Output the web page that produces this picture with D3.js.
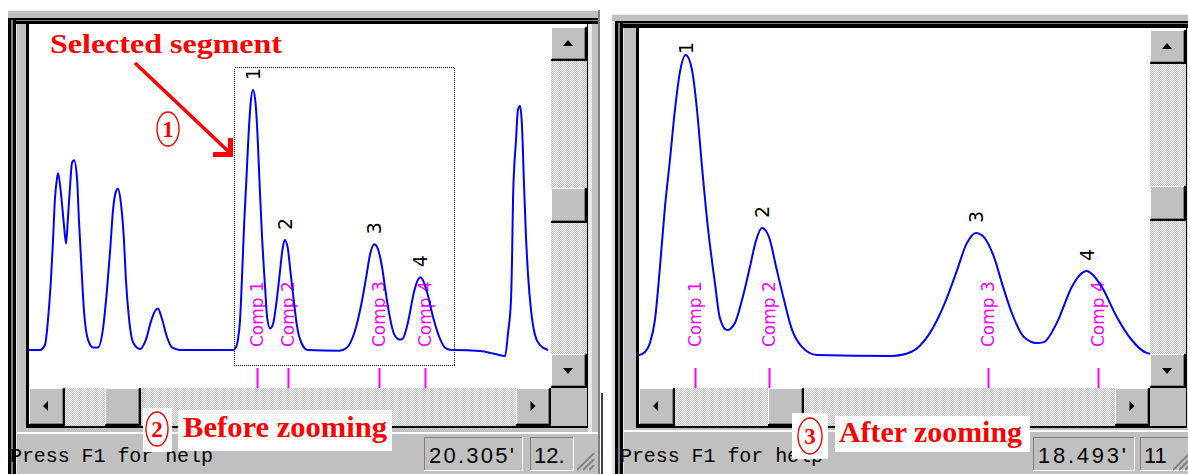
<!DOCTYPE html>
<html>
<head>
<meta charset="utf-8">
<script src="https://cdn.jsdelivr.net/npm/d3@7"></script>
<style>
  html, body { margin: 0; padding: 0; background: #fff; overflow: hidden; }
  svg { display: block; }
</style>
</head>
<body>
<div id="chart"></div>
<script>
// chromatogram: retention time (min) / detector signal (% of peak 1)
const traceTime = [
  0, 0.63, 0.92, 1.09, 1.26, 1.38, 1.49, 1.61, 1.67, 1.84,
  2.01, 2.13, 2.24, 2.36, 2.47, 2.59, 2.76, 2.87, 2.99, 3.16,
  3.39, 3.68, 3.97, 4.25, 4.48, 4.66, 4.83, 5.00, 5.11, 5.29,
  5.46, 5.57, 5.75, 5.98, 6.38, 6.72, 7.01, 7.24, 7.41, 7.64,
  7.93, 8.22, 8.68, 11.60,
  11.75, 11.89, 12.01, 12.13, 12.25, 12.37, 12.49, 12.61, 12.73, 12.87,
  13.02, 13.14, 13.26, 13.40, 13.57, 13.69, 13.86, 14.05, 14.22, 14.41,
  14.56, 14.70, 14.87, 15.04, 15.23, 15.40, 15.66, 16.02, 17.82, 18.28,
  18.73, 19.09, 19.36, 19.62, 19.84, 20.03, 20.27, 20.49, 20.70, 20.99,
  21.30, 21.47, 21.78, 22.14, 22.38, 22.50, 22.60, 22.86, 23.22, 23.58,
  23.94, 24.30, 24.45,
  25.92, 26.78, 27.36, 27.53, 27.70, 27.76, 27.82, 27.99, 28.10, 28.22,
  28.33, 28.45, 28.56, 28.68, 28.85, 29.08, 29.37, 29.83
];
const traceSignal = [
  0, 0, 2, 11.5, 27, 42, 58, 66, 68, 60,
  48, 41, 51, 63, 72, 73, 66, 50, 35, 15,
  4, 1, 1, 8, 23, 38, 54, 61, 62, 56,
  42, 27, 12, 3, 0.4, 4, 11, 15, 16, 12,
  5, 1, 0, 0,
  0, 1, 4, 11.7, 29.3, 49.3, 65, 81.7, 94.3, 100,
  95, 81.7, 62.7, 42.7, 24, 12.3, 8.3, 10.7, 18.3, 29.3,
  38.3, 42.3, 39.3, 29.3, 18.3, 9.3, 2.7, 0, -0.3, 1,
  7.3, 17.3, 27.3, 37.3, 40.7, 39.3, 32.7, 22.7, 14, 6,
  4, 4.3, 10.7, 22.7, 27.3, 28, 27.3, 22.7, 12.7, 5,
  0.7, 0, 0,
  -0.4, -1.5, -2.3, 6.5, 19.2, 34.6, 58.8, 80.8, 92.3, 93.8,
  86.5, 63.5, 44, 29, 15.4, 5.8, 1.9, 0
];

// identified components and integrated peaks
const compTimes = [13.08, 14.87, 20.12, 22.77];
const compNames = ["Comp 1", "Comp 2", "Comp 3", "Comp 4"];
const peakTimes = [12.87, 14.70, 19.84, 22.50];
const peakNames = ["1", "2", "3", "4"];

// selected segment (dotted box) and the zoomed view range
const segmentTime = [11.8, 24.43];
const segmentSignal = [-5.8, 108.8];
const zoomTime = [11.747, 23.97];

const statusLeft = ["Press F1 for help", "20.305'", "12."];
const statusRight = ["Press F1 for help", "18.493'", "11"];

const W = 1188, H = 474;
const GRAY = '#c0c0c0', DARK = '#808080', LIGHT = '#dfdfdf';

const svg = d3.select('#chart').append('svg')
    .attr('width', W).attr('height', H)
    .style('background', '#fff');

const defs = svg.append('defs');
const pat = defs.append('pattern').attr('id', 'dither')
    .attr('width', 2).attr('height', 2).attr('patternUnits', 'userSpaceOnUse');
pat.append('rect').attr('width', 2).attr('height', 2).attr('fill', GRAY);
pat.append('rect').attr('width', 1).attr('height', 1).attr('fill', '#fff');
pat.append('rect').attr('x', 1).attr('y', 1).attr('width', 1).attr('height', 1).attr('fill', '#fff');

function box(g, x, y, w, h, fill) {
    return g.append('rect').attr('x', x).attr('y', y)
        .attr('width', w).attr('height', h).attr('fill', fill)
        .attr('shape-rendering', 'crispEdges');
}

// raised win95 button with an arrow glyph
function button(g, x, y, w, h, dir) {
    box(g, x, y, w, h, '#000');
    box(g, x, y, w - 2, h - 2, '#fff');
    box(g, x + 1, y + 1, w - 3, h - 3, DARK);
    box(g, x + 1, y + 1, w - 4, h - 4, GRAY);
    if (!dir) return;
    const cx = x + (w - 2) / 2, cy = y + (h - 2) / 2;
    let pts;
    if (dir === 'up') pts = [[cx - 5, cy + 3], [cx + 5, cy + 3], [cx, cy - 3]];
    if (dir === 'down') pts = [[cx - 5, cy - 2], [cx + 5, cy - 2], [cx, cy + 4]];
    if (dir === 'left') pts = [[cx + 2, cy - 5], [cx + 2, cy + 5], [cx - 3, cy]];
    if (dir === 'right') pts = [[cx - 2, cy - 5], [cx - 2, cy + 5], [cx + 3, cy]];
    g.append('polygon').attr('points', pts.map(p => p.join(',')).join(' ')).attr('fill', '#000');
}

function sunken(g, x, y, w, h) {
    box(g, x, y, w, h, '#fff');
    box(g, x, y, w - 1, h - 1, DARK);
    box(g, x + 1, y + 1, w - 2, h - 2, GRAY);
}

function grip(g, x, y) {
    [0, 6, 12].forEach(k => {
        g.append('line').attr('x1', x + k).attr('y1', y + 18).attr('x2', x + 18).attr('y2', y + k)
            .attr('stroke', '#fff').attr('stroke-width', 1);
        g.append('line').attr('x1', x + k + 1).attr('y1', y + 18).attr('x2', x + 18).attr('y2', y + k + 1)
            .attr('stroke', DARK).attr('stroke-width', 2);
    });
}

// one application window: frame, plot area, scroll bars and status bar
function drawWindow(p) {
    const g = svg.append('g');
    box(g, p.x0, p.y0, p.x1 - p.x0, H - p.y0, GRAY);
    box(g, p.x0, p.y0, p.x1 - p.x0, 1, '#ececec');
    // dark outer frame (top band and left band)
    box(g, p.x0 + p.lo, p.band, p.x1 - p.x0 - p.lo - 2, p.py - p.band, '#000');
    box(g, p.x0 + p.lo, p.band + 2, p.x1 - p.x0 - p.lo - 2, 1, DARK);
    box(g, p.x0 + p.lo, p.band, p.lw, H - p.band, '#000');
    box(g, p.x0 + p.lo + 3, p.band + 2, 2, H - p.band, DARK);
    if (p.lo > 0) box(g, p.x0, p.band, p.lo, H - p.band, LIGHT);
    box(g, p.x0 + p.lo + p.lw, p.py, 1, H - p.py, '#e8e8e8');
    // client sunken edge
    box(g, p.px - 3, p.py, 3, p.hb - p.py + 2, '#000');
    box(g, p.px - 3, p.hb, p.vr - p.px + 4, 2, '#000');
    box(g, p.vr, p.py, 1, p.hb - p.py + 2, '#000');
    box(g, p.vr + 1, p.py, 4, p.hb - p.py + 6, '#e8e8e8');
    box(g, p.x1 - 2, p.y0, 2, H - p.y0, DARK);
    // plot area
    box(g, p.px, p.py, p.pr - p.px, p.pb - p.py, '#fff');
    // vertical scroll bar
    box(g, p.pr, p.py, p.vr - p.pr, p.pb - p.py, 'url(#dither)');
    box(g, p.pr, p.py, p.vr - p.pr, p.vu - p.py, '#fff');
    button(g, p.pr, p.vu, p.vr - p.pr, 34, 'up');
    button(g, p.pr, p.vt, p.vr - p.pr, 35, null);
    button(g, p.pr, p.pb - 34, p.vr - p.pr, 34, 'down');
    // horizontal scroll bar
    box(g, p.px, p.pb, p.pr - p.px, p.hb - p.pb, 'url(#dither)');
    button(g, p.px, p.pb, 36, p.hb - p.pb, 'left');
    button(g, p.ht, p.pb, 36, p.hb - p.pb, null);
    button(g, p.pr - 35, p.pb, 35, p.hb - p.pb, 'right');
    box(g, p.pr, p.pb, p.vr - p.pr, p.hb - p.pb, GRAY);
    // status bar
    box(g, p.x0 + p.lo + p.lw + 1, p.sy, p.x1 - p.x0 - p.lo - p.lw - 3, 2, '#fff');
    g.append('text').attr('x', p.tx).attr('y', 462)
        .attr('font-family', 'Liberation Mono, DejaVu Sans Mono, monospace')
        .attr('font-size', 20).attr('fill', '#000')
        .attr('textLength', 203).attr('lengthAdjust', 'spacing')
        .text(p.status[0]);
    sunken(g, p.b1[0], 437, p.b1[1] - p.b1[0], 34);
    sunken(g, p.b2[0], 437, p.b2[1] - p.b2[0], 34);
    g.append('text').attr('x', p.b1[0] + 5).attr('y', 463)
        .attr('font-family', 'Liberation Sans, Arial, sans-serif').attr('font-size', 22)
        .attr('textLength', p.b1[1] - p.b1[0] - 14).attr('lengthAdjust', 'spacing')
        .text(p.status[1]);
    g.append('text').attr('x', p.b2[0] + 4).attr('y', 463)
        .attr('font-family', 'Liberation Sans, Arial, sans-serif').attr('font-size', 22)
        .text(p.status[2]);
    grip(g, p.gx, 452);
    return g;
}

drawWindow({
    x0: 8, y0: 10, x1: 600, lo: 0, lw: 8, band: 18,
    px: 29, py: 24, pr: 551, pb: 388, vr: 587, hb: 426,
    vu: 27, vt: 188, ht: 105, sy: 432, tx: 10,
    b1: [424, 523], b2: [530, 574], gx: 576, status: statusLeft
});
drawWindow({
    x0: 612, y0: 14, x1: 1192, lo: 3, lw: 8, band: 21,
    px: 639, py: 28, pr: 1150, pb: 388, vr: 1186, hb: 426,
    vu: 30, vt: 186, ht: 768, sy: 430, tx: 620,
    b1: [1033, 1135], b2: [1140, 1192], gx: 1172, status: statusRight
});

// strip of a window behind, between the two screenshots
box(svg, 601, 393, 2, H - 393, '#404040');

// ---- chromatogram panels ----
function clip(id, x, y, w, h) {
    defs.append('clipPath').attr('id', id).append('rect')
        .attr('x', x).attr('y', y).attr('width', w).attr('height', h);
}
clip('clipL', 29, 24, 522, 364);
clip('clipR', 639, 28, 511, 360);

const idx = d3.range(traceTime.length);
function peakSignal(t) { return traceSignal[traceTime.indexOf(t)]; }

function drawPanel(x, y, clipId, top) {
    const g = svg.append('g').attr('clip-path', `url(#${clipId})`);
    const line = d3.line()
        .x(i => x(traceTime[i]))
        .y(i => y(traceSignal[i]))
        .curve(d3.curveMonotoneX);

    // component markers
    g.selectAll('line.comp').data(compTimes).enter().append('line')
        .attr('class', 'comp')
        .attr('x1', d => Math.round(x(d)) + 0.5).attr('x2', d => Math.round(x(d)) + 0.5)
        .attr('y1', 368).attr('y2', 388)
        .attr('stroke', '#ff00ff').attr('stroke-width', 2);
    g.selectAll('text.comp').data(compTimes).enter().append('text')
        .attr('class', 'comp')
        .attr('transform', d => `translate(${x(d)},347) rotate(-90)`)
        .attr('dy', '0.36em')
        .attr('font-family', 'DejaVu Sans, sans-serif').attr('font-size', 17)
        .attr('fill', '#ff00ff')
        .text((d, i) => compNames[i]);

    g.append('path').attr('d', line(idx))
        .attr('fill', 'none').attr('stroke', '#0000ff').attr('stroke-width', 2);

    // peak numbers above apex
    g.selectAll('text.peak').data(peakTimes).enter().append('text')
        .attr('class', 'peak')
        .attr('transform', d => `translate(${x(d)},${Math.max(y(peakSignal(d)) - 10, top + 26)}) rotate(-90)`)
        .attr('dy', '0.36em')
        .attr('font-family', 'DejaVu Sans, sans-serif').attr('font-size', 19)
        .attr('fill', '#000')
        .text((d, i) => peakNames[i]);
    return g;
}

const xL = d3.scaleLinear().domain([0, 30]).range([29, 551]);
const yL = d3.scaleLinear().domain([0, 100]).range([350, 90]);
const xR = d3.scaleLinear().domain(zoomTime).range([639, 1148]);
const yR = d3.scaleLinear().domain([0, 100]).range([355, 55]);

const gL = drawPanel(xL, yL, 'clipL', 24);
drawPanel(xR, yR, 'clipR', 28);

// dotted selection box
gL.append('rect')
    .attr('x', Math.round(xL(segmentTime[0])) + 0.5)
    .attr('y', Math.round(yL(segmentSignal[1])) + 0.5)
    .attr('width', Math.round(xL(segmentTime[1]) - xL(segmentTime[0])))
    .attr('height', Math.round(yL(segmentSignal[0]) - yL(segmentSignal[1])))
    .attr('fill', 'none').attr('stroke', '#000').attr('stroke-width', 1)
    .attr('stroke-dasharray', '1,1').attr('shape-rendering', 'crispEdges');

// ---- red annotations ----
const RED = '#ff0000';
const serif = 'Liberation Serif, Times New Roman, serif';
const ann = svg.append('g');

ann.append('text').attr('x', 50).attr('y', 53)
    .attr('font-family', serif).attr('font-weight', 'bold').attr('font-size', 28)
    .attr('fill', RED).attr('textLength', 232).attr('lengthAdjust', 'spacingAndGlyphs')
    .text('Selected segment');
ann.append('line').attr('x1', 135).attr('y1', 63).attr('x2', 229).attr('y2', 152)
    .attr('stroke', RED).attr('stroke-width', 3.5);
ann.append('path').attr('d', 'M213,154.5 H230.5 V138')
    .attr('fill', 'none').attr('stroke', RED).attr('stroke-width', 5);

function circled(cx, cy, rx, ry, n) {
    ann.append('ellipse').attr('cx', cx).attr('cy', cy).attr('rx', rx).attr('ry', ry)
        .attr('fill', 'none').attr('stroke', RED).attr('stroke-width', 1.4);
    ann.append('text').attr('x', cx).attr('y', cy + 8).attr('text-anchor', 'middle')
        .attr('font-family', serif).attr('font-weight', 'bold').attr('font-size', 23)
        .attr('fill', RED).text(n);
}
circled(168, 129, 11, 17, '1');

box(ann, 143, 408, 29, 44, '#fff');
circled(157, 429, 11, 17, '2');
box(ann, 178, 410, 214, 41, '#fff');
ann.append('text').attr('x', 183).attr('y', 437)
    .attr('font-family', serif).attr('font-weight', 'bold').attr('font-size', 29)
    .attr('fill', RED).attr('textLength', 204).attr('lengthAdjust', 'spacingAndGlyphs')
    .text('Before zooming');

box(ann, 792, 413, 36, 46, '#fff');
circled(810, 436, 12, 18, '3');
box(ann, 835, 416, 195, 36, '#fff');
ann.append('text').attr('x', 839).attr('y', 442)
    .attr('font-family', serif).attr('font-weight', 'bold').attr('font-size', 29)
    .attr('fill', RED).attr('textLength', 183).attr('lengthAdjust', 'spacingAndGlyphs')
    .text('After zooming');
</script>
</body>
</html>
